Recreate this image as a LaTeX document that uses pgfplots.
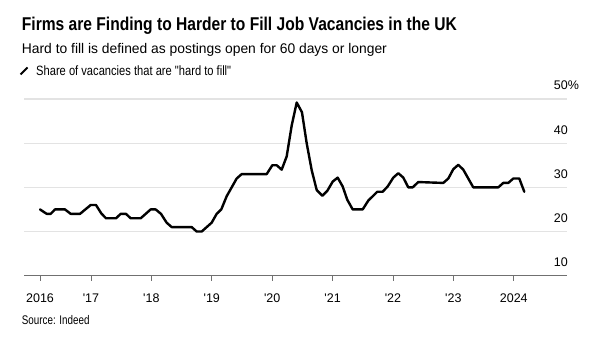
\documentclass[border=0pt]{standalone}
\usepackage{pgfplots}
\pgfplotsset{compat=1.18}
\usepackage{graphicx}
\usepackage{fontspec}
\setmainfont{Liberation Sans}
\newcommand\dq{\XeTeXglyph\XeTeXcharglyph"22\relax}
\newcommand\sq{\XeTeXglyph\XeTeXcharglyph"27\relax}
\definecolor{gridc}{HTML}{E3E3E3}
\definecolor{axc}{HTML}{707070}
\begin{document}
\begin{tikzpicture}[x=1pt,y=1pt]
\useasboundingbox (0,0) rectangle (604,342);
\node[anchor=base west,inner sep=0pt] at (21.7,311.3) {\resizebox{435pt}{\height}{\fontsize{18.5}{20}\selectfont\bfseries Firms are Finding to Harder to Fill Job Vacancies in the UK}};
\node[anchor=base west,inner sep=0pt] at (21.7,288.7) {\resizebox{365pt}{\height}{\fontsize{14}{16}\selectfont Hard to fill is defined as postings open for 60 days or longer}};
\draw[line width=2pt, black] (20.5,267.5) -- (27.5,274.5);
\node[anchor=base west,inner sep=0pt] at (36,266.7) {\resizebox{195pt}{\height}{\fontsize{13.5}{15}\selectfont Share of vacancies that are \dq hard to fill\dq}};
\node[anchor=base west,inner sep=0pt] at (21.7,17) {\resizebox{67.6pt}{\height}{\fontsize{12.5}{14}\selectfont Source: Indeed}};
\begin{axis}[
  at={(24pt,66.3pt)}, anchor=south west,
  scale only axis, width=543pt, height=176.7pt,
  xmin=2015.891, xmax=2024.881, ymin=10, ymax=50,
  axis x line*=bottom, axis y line*=right,
  y axis line style={draw=none},
  x axis line style={axc, line width=0.9pt},
  xtick={2016.156,2017,2018,2019,2020,2021,2022,2023,2024},
  xticklabels={2016,\sq17,\sq18,\sq19,\sq20,\sq21,\sq22,\sq23,2024},
  xtick align=outside, major tick length=5pt,
  xtick style={axc, line width=0.9pt},
  ytick={10,20,30,40,50},
  yticklabels={10,20,30,40,50\rlap{\%}},
  ytick style={draw=none},
  ymajorgrids, grid style={gridc, line width=1.3pt},
  xticklabel style={font=\fontsize{12.5}{14}\selectfont, anchor=base, inner sep=0pt, yshift=-21.8pt},
  yticklabel style={font=\fontsize{12.5}{14}\selectfont, anchor=base east, inner sep=0pt, xshift=1pt, yshift=9pt},
  clip=false,
]
\addplot[black, line width=2.4pt, line join=round, line cap=round] coordinates {
(2016.156,25) (2016.267,24) (2016.333,24) (2016.404,25) (2016.570,25) (2016.664,24)
(2016.818,24) (2016.995,26) (2017.083,26) (2017.171,24.1) (2017.248,23) (2017.414,23)
(2017.492,24) (2017.579,24) (2017.657,23) (2017.823,23) (2017.988,25) (2018.071,25)
(2018.159,24) (2018.253,22) (2018.336,21) (2018.667,21) (2018.750,20) (2018.833,20)
(2018.998,22) (2019.081,24) (2019.157,25) (2019.247,28) (2019.412,32) (2019.495,33)
(2019.909,33) (2020.002,35) (2020.075,35) (2020.157,34) (2020.240,37) (2020.323,44)
(2020.406,49.2) (2020.493,47) (2020.571,40) (2020.654,33.9) (2020.737,29.4) (2020.830,28.1)
(2020.912,29.2) (2021.002,31.3) (2021.084,32.2) (2021.167,30.2) (2021.243,27.2) (2021.333,25)
(2021.498,25) (2021.591,27) (2021.740,29) (2021.829,29) (2021.912,30.2) (2022.005,32.2)
(2022.088,33.2) (2022.171,32.2) (2022.253,30) (2022.326,30) (2022.419,31.2) (2022.833,31)
(2022.916,32) (2022.998,34.1) (2023.081,35.1) (2023.164,34) (2023.329,30) (2023.743,30)
(2023.826,31) (2023.909,31) (2023.992,32) (2024.091,32) (2024.174,29)
};
\end{axis}
\end{tikzpicture}
\end{document}
